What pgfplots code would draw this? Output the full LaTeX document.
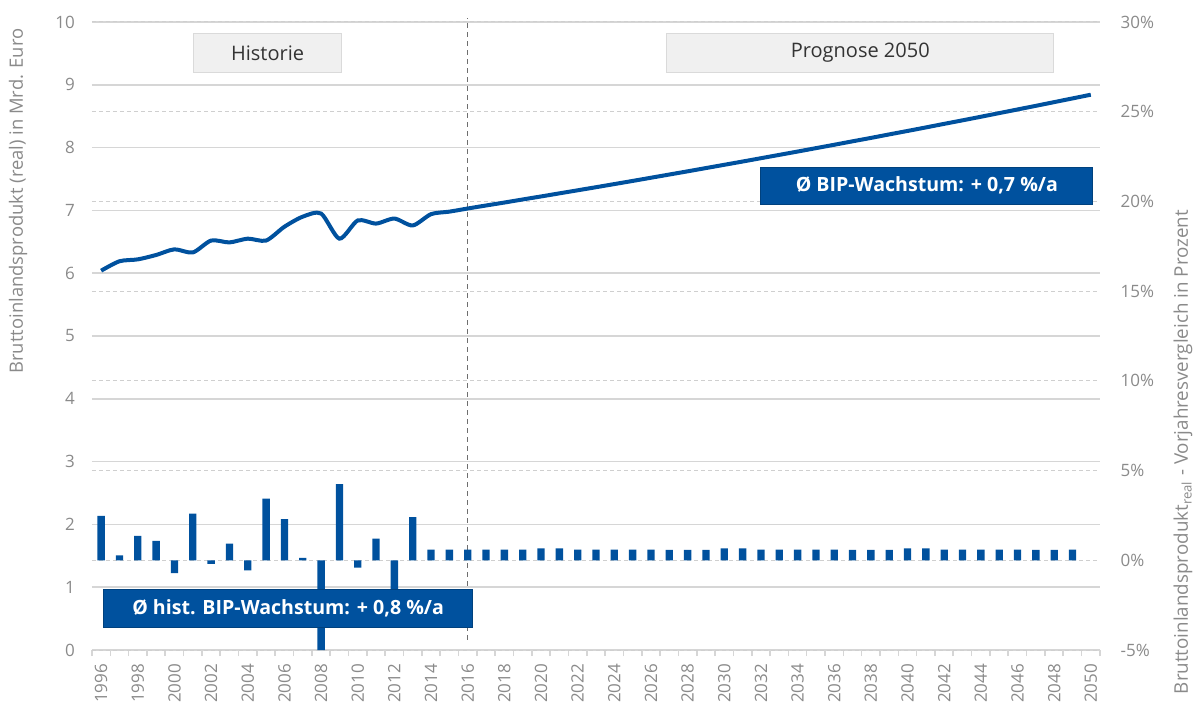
\documentclass[border=0pt]{standalone}
\usepackage{fontspec}
\setmainfont{Open Sans}
\usepackage{pgfplots}
\pgfplotsset{compat=1.18}
\definecolor{bipblue}{HTML}{00519E}
\definecolor{gridgray}{HTML}{D6D6D6}
\definecolor{dashgray}{HTML}{CFCFCF}
\definecolor{ticktext}{HTML}{8A8A8A}
\definecolor{boxgray}{HTML}{F0F0F0}
\definecolor{boxline}{HTML}{DADADA}
\definecolor{vline}{HTML}{6E6E6E}

\begin{document}
\begin{tikzpicture}[font=\fontsize{8.5}{10}\selectfont]
\useasboundingbox (-46pt,-26pt) rectangle (554pt,325pt);

% ---------- axis 1: left scale, solid grid, x axis ----------
\begin{axis}[
  scale only axis, width=504pt, height=314pt,
  xmin=1995.5, xmax=2050.5, ymin=0, ymax=10,
  axis lines*=left,
  y axis line style={draw=none},
  x axis line style={draw=gridgray, line width=0.8pt},
  ytick={0,1,...,10},
  yticklabels={0,1,2,3,4,5,6,7,8,9,10},
  ymajorgrids,
  major grid style={gridgray, line width=0.8pt},
  xtick={1996,1998,...,2050},
  xticklabels={1996,1998,2000,2002,2004,2006,2008,2010,2012,2014,2016,2018,2020,2022,2024,2026,2028,2030,2032,2034,2036,2038,2040,2042,2044,2046,2048,2050},
  minor xtick={1995.5,1996.5,...,2050.5},
  major tick length=0pt, minor tick length=3pt,
  tick align=outside,
  minor tick style={gridgray, line width=0.8pt},
  xticklabel style={rotate=90, anchor=east, text=ticktext},
  yticklabel style={text=ticktext},
  xticklabel shift=3.5pt,
  yticklabel shift=5pt,
]
\end{axis}

% ---------- axis 2: right scale, dashed grid, bars ----------
\begin{axis}[
  scale only axis, width=504pt, height=314pt,
  xmin=1995.5, xmax=2050.5, ymin=-5, ymax=30,
  axis x line=none, xtick=\empty,
  axis y line*=right,
  y axis line style={draw=none},
  ytick={-5,0,...,30},
  yticklabels={-5\%,0\%,5\%,10\%,15\%,20\%,25\%,30\%},
  yticklabel style={text=ticktext},
  yticklabel shift=6.8pt,
  major tick length=0pt,
  ymajorgrids,
  major grid style={dashgray, line width=0.5pt, dash pattern=on 2pt off 1.5pt},
  clip=false,
]
\draw[vline, line width=0.6pt, dash pattern=on 2.5pt off 2pt] (axis cs:2016,-4.44) -- (axis cs:2016,30.23);
\addplot[ybar, bar width=0.4, fill=bipblue, draw=none] coordinates {
(1996,2.47) (1997,0.28) (1998,1.36) (1999,1.08) (2000,-0.71)
(2001,2.60) (2002,-0.20) (2003,0.93) (2004,-0.56) (2005,3.44)
(2006,2.29) (2007,0.13) (2008,-5.00) (2009,4.24) (2010,-0.41)
(2011,1.21) (2012,-3.00) (2013,2.41) (2014,0.60) (2015,0.60)
(2016,0.60) (2017,0.60) (2018,0.60) (2019,0.60) (2020,0.66)
(2021,0.66) (2022,0.60) (2023,0.60) (2024,0.60) (2025,0.60)
(2026,0.60) (2027,0.58) (2028,0.58) (2029,0.58) (2030,0.66)
(2031,0.66) (2032,0.60) (2033,0.60) (2034,0.60) (2035,0.60)
(2036,0.60) (2037,0.58) (2038,0.58) (2039,0.58) (2040,0.66)
(2041,0.66) (2042,0.60) (2043,0.60) (2044,0.60) (2045,0.60)
(2046,0.60) (2047,0.58) (2048,0.58) (2049,0.60)
};
\draw[fill=bipblue, draw=bipblue!80!black, line width=0.4pt] (axis cs:1996.13,-1.62) rectangle (axis cs:2016.27,-3.73);
\node[text=white, font=\fontsize{9.8}{11}\bfseries\selectfont] at (axis cs:2006.2,-2.66) {Ø hist. BIP-Wachstum: + 0,8 \%/a};
\end{axis}

% ---------- axis 3: left scale, line and annotations ----------
\begin{axis}[
  scale only axis, width=504pt, height=314pt,
  xmin=1995.5, xmax=2050.5, ymin=0, ymax=10,
  hide axis, clip=false,
]
\addplot[bipblue, line width=2pt, smooth, tension=0.45] coordinates {
(1996,6.04) (1997,6.19) (1998,6.22) (1999,6.29) (2000,6.38)
(2001,6.33) (2002,6.52) (2003,6.49) (2004,6.55) (2005,6.52)
(2006,6.74) (2007,6.90) (2008,6.95) (2009,6.55) (2010,6.84)
(2011,6.79) (2012,6.87) (2013,6.76) (2014,6.94) (2015,6.98)
(2016,7.030) (2017,7.078) (2018,7.125) (2019,7.174) (2020,7.222)
(2021,7.271) (2022,7.320) (2023,7.369) (2024,7.419) (2025,7.469)
(2026,7.520) (2027,7.571) (2028,7.622) (2029,7.674) (2030,7.726)
(2031,7.778) (2032,7.831) (2033,7.884) (2034,7.937) (2035,7.991)
(2036,8.045) (2037,8.100) (2038,8.154) (2039,8.210) (2040,8.265)
(2041,8.321) (2042,8.378) (2043,8.434) (2044,8.491) (2045,8.549)
(2046,8.607) (2047,8.665) (2048,8.724) (2049,8.783) (2050,8.842)
};
\draw[fill=boxgray, draw=boxline, line width=0.5pt] (axis cs:2001.04,9.82) rectangle (axis cs:2009.12,9.19);
\node[text=black!80, font=\fontsize{10}{12}\selectfont] at (axis cs:2005.08,9.505) {Historie};
\draw[fill=boxgray, draw=boxline, line width=0.5pt] (axis cs:2026.86,9.82) rectangle (axis cs:2047.98,9.19);
\node[text=black!80, font=\fontsize{10}{12}\selectfont] at (axis cs:2037.42,9.505) {Prognose 2050};
\draw[fill=bipblue, draw=bipblue!80!black, line width=0.4pt] (axis cs:2031.99,7.69) rectangle (axis cs:2050.11,7.10);
\node[text=white, font=\fontsize{9.8}{11}\bfseries\selectfont] at (axis cs:2041.05,7.395) {Ø BIP-Wachstum: + 0,7 \%/a};
\end{axis}

\node[rotate=90, text=ticktext, font=\fontsize{9.2}{11}\selectfont] at (-37pt,224.5pt) {Bruttoinlandsprodukt (real) in Mrd. Euro};
\node[rotate=90, text=ticktext, font=\fontsize{9.4}{11}\selectfont] at (545.5pt,99pt) {Bruttoinlandsprodukt\textsubscript{real} - Vorjahresvergleich in Prozent};
\end{tikzpicture}
\end{document}
